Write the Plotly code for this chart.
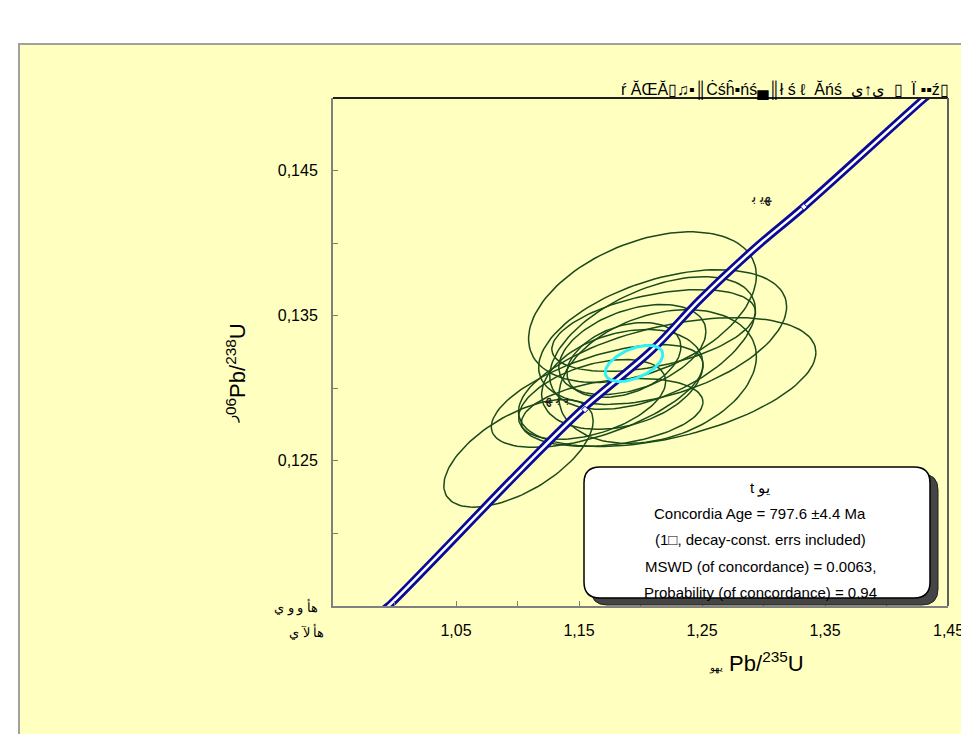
import numpy as np
import plotly.graph_objects as go

# ---------------- data ----------------
# error ellipses: centre (207Pb/235U, 206Pb/238U), half extents, correlation
ell_x   = [1.1008, 1.2016, 1.2217, 1.2180, 1.2098, 1.2139, 1.1934, 1.1865, 1.1648, 1.1607, 1.1852, 1.1770, 1.2107]
ell_y   = [0.12552, 0.13559, 0.13043, 0.13353, 0.13312, 0.13081, 0.13267, 0.13195, 0.12947, 0.12923, 0.13061, 0.12834, 0.13398]
ell_sx  = [0.0607, 0.0926, 0.1209, 0.1008, 0.0836, 0.0803, 0.0598, 0.0463, 0.0861, 0.0598, 0.0656, 0.0738, 0.0828]
ell_sy  = [0.00371, 0.00519, 0.00444, 0.00464, 0.00457, 0.00461, 0.00310, 0.00258, 0.00354, 0.00275, 0.00344, 0.00234, 0.00282]
ell_rho = [0.60, 0.42, 0.46, 0.45, 0.50, 0.30, 0.40, 0.35, 0.60, 0.45, 0.30, 0.30, 0.45]

# concordia age ellipse
age_x, age_y, age_sx, age_sy, age_rho = 1.1947, 0.13171, 0.0234, 0.00124, 0.5

# concordia curve
conc_x = [0.9905, 0.9951, 1.1033, 1.1525, 1.2098, 1.2484, 1.2943, 1.3328, 1.4311, 1.4370]
conc_y = [0.1147, 0.1150, 0.12442, 0.12854, 0.13267, 0.13611, 0.13975, 0.1425, 0.1500, 0.1504]

# age marks on concordia
mark_x = [1.1549, 1.3328]
mark_y = [0.12854, 0.1425]
mark_lbl_x = [1.1320, 1.2980]
mark_lbl_y = [0.12930, 0.1432]
mark_lbl = ["\ufe91 \ufe91 \ufeec", "\ufeec\ufef3 \ufe91"]

x_ticks = [1.05, 1.15, 1.25, 1.35]
x_ticktext = ["1,05", "1,15", "1,25", "1,35"]
x_edge_label = "1,45"
y_ticks = [0.125, 0.135, 0.145]
y_ticktext = ["0,125", "0,135", "0,145"]
x_minor = [1.0, 1.1, 1.2, 1.3, 1.4]
y_minor = [0.12, 0.13, 0.14]
x_first_label = "\u0647\u0623 \u0644\u0622 \u064a"
y_first_label = "\u0647\u0623 \u0648 \u0648 \u064a"

box_lines = ["t \u064a\u0648",
             "Concordia Age = 797.6 \u00b14.4 Ma",
             "(1\u25a1, decay-const. errs included)",
             "MSWD (of concordance) = 0.0063,",
             "Probability (of concordance) = 0.94"]

top_text = ("\u0155 \u0102\u0152\u0102\u25af\u266b\u25aa\u2551\u010a\u015b\u0125\u25aa\u0144\u015b"
            "\u2584\u2551\u0142 \u015b \u2113  \u0102\u0144\u015b  \u064a\u2191\u064a  \u25af  \u00cf \u25aa\u25aa\u017a\u25af")

FONT = "Liberation Sans, Arial, sans-serif"

fig = go.Figure()

# background panel (paper coords)
L, R, T, B = 333, 948, 98, 606
W, H = R - L, B - T
def px(xp): return (xp - L) / W
def py(yp): return (B - yp) / H

fig.add_shape(type="rect", xref="paper", yref="paper",
              x0=px(19), x1=px(975), y0=py(44), y1=py(760),
              fillcolor="#ffffc0", line=dict(color="#a0a0a0", width=2), layer="below")

t = np.linspace(0, 2 * np.pi, 120)
for cx, cy, sx, sy, r in zip(ell_x, ell_y, ell_sx, ell_sy, ell_rho):
    ex = cx + sx * np.cos(t)
    ey = cy + sy * (r * np.cos(t) + np.sqrt(1 - r * r) * np.sin(t))
    fig.add_trace(go.Scatter(x=ex, y=ey, mode="lines",
                             line=dict(color="#1b4a1b", width=1.5),
                             hoverinfo="skip", showlegend=False))

# concordia band
fig.add_trace(go.Scatter(x=conc_x, y=conc_y, mode="lines", line_shape="spline",
                         line=dict(color="#0a0a96", width=8), showlegend=False, hoverinfo="skip"))
fig.add_trace(go.Scatter(x=conc_x, y=conc_y, mode="lines", line_shape="spline",
                         line=dict(color="#ffffff", width=2.5), showlegend=False, hoverinfo="skip"))
fig.add_trace(go.Scatter(x=mark_x, y=mark_y, mode="markers",
                         marker=dict(symbol="diamond", size=5, color="white",
                                     line=dict(color="#0a0a96", width=1)),
                         showlegend=False, hoverinfo="skip"))

ax_ = age_x + age_sx * np.cos(t)
ay_ = age_y + age_sy * (age_rho * np.cos(t) + np.sqrt(1 - age_rho ** 2) * np.sin(t))
fig.add_trace(go.Scatter(x=ax_, y=ay_, mode="lines",
                         line=dict(color="#30f0f8", width=3), showlegend=False, hoverinfo="skip"))

for lx, ly, lt in zip(mark_lbl_x, mark_lbl_y, mark_lbl):
    fig.add_annotation(x=lx, y=ly, xref="x", yref="y", text=lt, showarrow=False,
                       xanchor="center", yanchor="middle",
                       font=dict(family=FONT, size=16, color="#202020"))

# results box with shadow
def rrect(x0, y0, x1, y1, r):
    X0, X1 = px(x0), px(x1)
    Y0, Y1 = py(y0), py(y1)  # Y0 top, Y1 bottom
    dx, dy = r / W, r / H
    return (f"M {X0+dx},{Y0} L {X1-dx},{Y0} Q {X1},{Y0} {X1},{Y0-dy} "
            f"L {X1},{Y1+dy} Q {X1},{Y1} {X1-dx},{Y1} L {X0+dx},{Y1} "
            f"Q {X0},{Y1} {X0},{Y1+dy} L {X0},{Y0-dy} Q {X0},{Y0} {X0+dx},{Y0} Z")

fig.add_shape(type="path", xref="paper", yref="paper", path=rrect(591, 474, 938, 605, 16),
              fillcolor="#454545", line=dict(color="#202020", width=1))
fig.add_shape(type="path", xref="paper", yref="paper", path=rrect(584, 467, 930, 598, 16),
              fillcolor="white", line=dict(color="black", width=1.5))

line_y = [488, 513, 539, 566, 592]
for txt, yy in zip(box_lines, line_y):
    fig.add_annotation(x=px(760), y=py(yy), xref="paper", yref="paper", text=txt,
                       xanchor="center", yanchor="middle",
                       showarrow=False, font=dict(family=FONT, size=15, color="black"))

# garbled first tick labels and edge label
fig.add_annotation(x=px(306), y=py(631), xref="paper", yref="paper",
                   xanchor="center", yanchor="middle",
                   text=x_first_label, showarrow=False,
                   font=dict(family=FONT, size=13, color="black"))
fig.add_annotation(x=px(320), y=py(607), xref="paper", yref="paper", xanchor="right",
                   yanchor="middle",
                   text=y_first_label, showarrow=False,
                   font=dict(family=FONT, size=13, color="black"))
fig.add_annotation(x=1.45, y=py(630), xref="x", yref="paper", xanchor="center",
                   yanchor="middle", text=x_edge_label, showarrow=False,
                   font=dict(family=FONT, size=16, color="black"))

# axis titles
fig.add_annotation(x=px(756), y=py(662), xref="paper", yref="paper", showarrow=False,
                   xanchor="center", yanchor="middle",
                   text="<span style='font-size:10px'>\u064a\u0647\u0648</span> Pb/<sup>235</sup>U",
                   font=dict(family=FONT, size=22, color="black"))
fig.add_annotation(x=px(236), y=py(373), xref="paper", yref="paper", showarrow=False,
                   xanchor="center", yanchor="middle", textangle=-90,
                   text="<sup>\u0631\u200e06</sup>Pb/<sup>238</sup>U",
                   font=dict(family=FONT, size=22, color="black"))

# garbled title
fig.add_annotation(x=px(951), y=py(89), xref="paper", yref="paper", xanchor="right",
                   yanchor="middle", showarrow=False, text=top_text,
                   font=dict(family=FONT, size=16, color="black"))

fig.update_layout(
    width=961, height=734,
    margin=dict(l=L, r=961 - R, t=T, b=734 - B),
    paper_bgcolor="white", plot_bgcolor="#e1e1e1",
    showlegend=False,
    xaxis=dict(range=[0.95, 1.45], tickvals=x_ticks, ticktext=x_ticktext,
               ticks="inside", ticklen=5, tickcolor="#808080", tickwidth=1,
               minor=dict(tickvals=x_minor, ticks="inside", ticklen=5, tickcolor="#808080"),
               showgrid=False, zeroline=False, showline=True, linecolor="#808080", linewidth=2,
               mirror=False, ticklabelstandoff=9, automargin=False,
               tickfont=dict(family=FONT, size=16, color="black")),
    yaxis=dict(range=[0.115, 0.15], tickvals=y_ticks, ticktext=y_ticktext,
               ticks="inside", ticklen=5, tickcolor="#808080", tickwidth=1,
               minor=dict(tickvals=y_minor, ticks="inside", ticklen=5, tickcolor="#808080"),
               showgrid=False, zeroline=False, showline=True, linecolor="#808080", linewidth=2,
               mirror=False, ticklabelstandoff=10, automargin=False,
               tickfont=dict(family=FONT, size=16, color="black")),
)
# top and right frame of plot area
fig.add_shape(type="line", xref="paper", yref="paper", x0=0, x1=1, y0=1, y1=1,
              line=dict(color="#202020", width=2))
fig.add_shape(type="line", xref="paper", yref="paper", x0=1, x1=1, y0=0, y1=1,
              line=dict(color="#606060", width=2))

fig.write_html("out.html", config={"displayModeBar": False},
               post_script="document.body.style.margin='0px';")
